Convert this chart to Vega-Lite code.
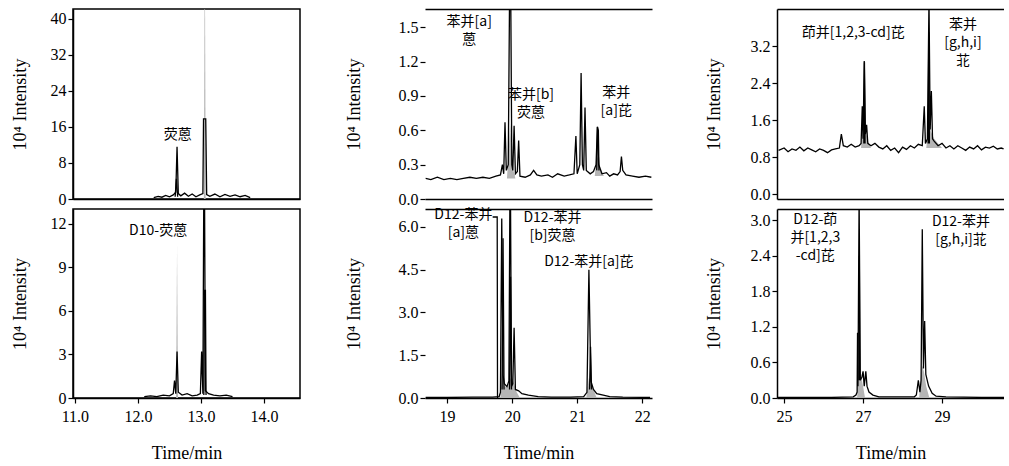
{
"$schema": "https://vega.github.io/schema/vega-lite/v6.json",
"background": "white",
"padding": {"left": 10, "top": 8, "right": 0, "bottom": 5},
"bounds": "flush",
"columns": 3,
"spacing": {"row": 10, "column": 125},
"config": {
  "view": {"stroke": null},
  "font": "Liberation Serif",
  "axis": {"labelFont": "Liberation Serif", "titleFont": "Liberation Serif", "labelFontSize": 16, "titleFontSize": 18, "titleFontWeight": "normal", "labelColor": "#000", "titleColor": "#000", "domainColor": "#000", "tickColor": "#000", "grid": false, "domainWidth": 1.5, "tickWidth": 1.2, "tickSize": 5, "labelPadding": 2, "labelFlush": false, "titlePadding": 12},
  "text": {"font": "Noto Sans CJK SC", "fontSize": 14, "lineHeight": 18, "lineBreak": "\n", "align": "center", "baseline": "middle"}
},
"datasets": {
"lines": [
{"panel":"A","trace":"a1","time":12.25,"intensity":0.3},{"panel":"A","trace":"a1","time":12.32,"intensity":0.6},{"panel":"A","trace":"a1","time":12.38,"intensity":0.4},{"panel":"A","trace":"a1","time":12.44,"intensity":0.8},{"panel":"A","trace":"a1","time":12.5,"intensity":0.5},{"panel":"A","trace":"a1","time":12.56,"intensity":0.9},{"panel":"A","trace":"a1","time":12.6,"intensity":1.5},{"panel":"A","trace":"a1","time":12.62,"intensity":11.6},{"panel":"A","trace":"a1","time":12.64,"intensity":1.2},{"panel":"A","trace":"a1","time":12.68,"intensity":0.7},{"panel":"A","trace":"a1","time":12.74,"intensity":1.3},{"panel":"A","trace":"a1","time":12.8,"intensity":0.6},{"panel":"A","trace":"a1","time":12.86,"intensity":1.1},{"panel":"A","trace":"a1","time":12.92,"intensity":0.5},{"panel":"A","trace":"a1","time":12.98,"intensity":0.9},{"panel":"A","trace":"a1","time":13.03,"intensity":1.2},{"panel":"A","trace":"a1","time":13.04,"intensity":17.8},{"panel":"A","trace":"a1","time":13.075,"intensity":17.8},{"panel":"A","trace":"a1","time":13.09,"intensity":1.0},{"panel":"A","trace":"a1","time":13.14,"intensity":0.6},{"panel":"A","trace":"a1","time":13.22,"intensity":1.1},{"panel":"A","trace":"a1","time":13.3,"intensity":0.5},{"panel":"A","trace":"a1","time":13.38,"intensity":1.0},{"panel":"A","trace":"a1","time":13.46,"intensity":0.6},{"panel":"A","trace":"a1","time":13.54,"intensity":0.9},{"panel":"A","trace":"a1","time":13.62,"intensity":0.5},{"panel":"A","trace":"a1","time":13.7,"intensity":0.8},{"panel":"A","trace":"a1","time":13.78,"intensity":0.3},
{"panel":"A","trace":"a2","time":12.59,"intensity":0.5},{"panel":"A","trace":"a2","time":12.61,"intensity":4.5},{"panel":"A","trace":"a2","time":12.63,"intensity":0.5},
{"panel":"B","trace":"b1","time":12.1,"intensity":0.1},{"panel":"B","trace":"b1","time":12.2,"intensity":0.15},{"panel":"B","trace":"b1","time":12.3,"intensity":0.1},{"panel":"B","trace":"b1","time":12.4,"intensity":0.2},{"panel":"B","trace":"b1","time":12.5,"intensity":0.15},{"panel":"B","trace":"b1","time":12.56,"intensity":0.3},{"panel":"B","trace":"b1","time":12.58,"intensity":1.2},{"panel":"B","trace":"b1","time":12.6,"intensity":0.3},{"panel":"B","trace":"b1","time":12.62,"intensity":3.2},{"panel":"B","trace":"b1","time":12.64,"intensity":0.4},{"panel":"B","trace":"b1","time":12.7,"intensity":0.2},{"panel":"B","trace":"b1","time":12.78,"intensity":0.3},{"panel":"B","trace":"b1","time":12.86,"intensity":0.15},{"panel":"B","trace":"b1","time":12.94,"intensity":0.2},{"panel":"B","trace":"b1","time":12.99,"intensity":0.3},{"panel":"B","trace":"b1","time":13.01,"intensity":3.2},{"panel":"B","trace":"b1","time":13.03,"intensity":0.3},{"panel":"B","trace":"b1","time":13.05,"intensity":20},{"panel":"B","trace":"b1","time":13.07,"intensity":0.5},{"panel":"B","trace":"b1","time":13.12,"intensity":0.3},{"panel":"B","trace":"b1","time":13.2,"intensity":0.2},{"panel":"B","trace":"b1","time":13.3,"intensity":0.15},{"panel":"B","trace":"b1","time":13.4,"intensity":0.2},{"panel":"B","trace":"b1","time":13.5,"intensity":0.1},
{"panel":"B","trace":"b2","time":13.045,"intensity":0.2},{"panel":"B","trace":"b2","time":13.055,"intensity":7.4},{"panel":"B","trace":"b2","time":13.07,"intensity":7.4},{"panel":"B","trace":"b2","time":13.08,"intensity":0.2},
{"panel":"C","trace":"c1","time":18.67,"intensity":0.18},{"panel":"C","trace":"c1","time":18.75,"intensity":0.17},{"panel":"C","trace":"c1","time":18.85,"intensity":0.19},{"panel":"C","trace":"c1","time":18.95,"intensity":0.17},{"panel":"C","trace":"c1","time":19.05,"intensity":0.18},{"panel":"C","trace":"c1","time":19.15,"intensity":0.17},{"panel":"C","trace":"c1","time":19.25,"intensity":0.18},{"panel":"C","trace":"c1","time":19.35,"intensity":0.19},{"panel":"C","trace":"c1","time":19.45,"intensity":0.18},{"panel":"C","trace":"c1","time":19.55,"intensity":0.19},{"panel":"C","trace":"c1","time":19.65,"intensity":0.18},{"panel":"C","trace":"c1","time":19.75,"intensity":0.2},{"panel":"C","trace":"c1","time":19.82,"intensity":0.21},{"panel":"C","trace":"c1","time":19.85,"intensity":0.3},{"panel":"C","trace":"c1","time":19.87,"intensity":0.22},{"panel":"C","trace":"c1","time":19.89,"intensity":0.67},{"panel":"C","trace":"c1","time":19.91,"intensity":0.25},{"panel":"C","trace":"c1","time":19.94,"intensity":0.3},{"panel":"C","trace":"c1","time":19.97,"intensity":2.5},{"panel":"C","trace":"c1","time":19.995,"intensity":0.3},{"panel":"C","trace":"c1","time":20.01,"intensity":0.25},{"panel":"C","trace":"c1","time":20.03,"intensity":0.64},{"panel":"C","trace":"c1","time":20.05,"intensity":0.22},{"panel":"C","trace":"c1","time":20.08,"intensity":0.24},{"panel":"C","trace":"c1","time":20.1,"intensity":0.51},{"panel":"C","trace":"c1","time":20.12,"intensity":0.2},{"panel":"C","trace":"c1","time":20.2,"intensity":0.19},{"panel":"C","trace":"c1","time":20.28,"intensity":0.21},{"panel":"C","trace":"c1","time":20.33,"intensity":0.25},{"panel":"C","trace":"c1","time":20.38,"intensity":0.21},{"panel":"C","trace":"c1","time":20.45,"intensity":0.2},{"panel":"C","trace":"c1","time":20.55,"intensity":0.21},{"panel":"C","trace":"c1","time":20.62,"intensity":0.19},{"panel":"C","trace":"c1","time":20.7,"intensity":0.22},{"panel":"C","trace":"c1","time":20.8,"intensity":0.2},{"panel":"C","trace":"c1","time":20.88,"intensity":0.21},{"panel":"C","trace":"c1","time":20.95,"intensity":0.22},{"panel":"C","trace":"c1","time":20.98,"intensity":0.55},{"panel":"C","trace":"c1","time":21.0,"intensity":0.22},{"panel":"C","trace":"c1","time":21.04,"intensity":0.3},{"panel":"C","trace":"c1","time":21.06,"intensity":1.1},{"panel":"C","trace":"c1","time":21.08,"intensity":0.3},{"panel":"C","trace":"c1","time":21.1,"intensity":0.25},{"panel":"C","trace":"c1","time":21.12,"intensity":0.8},{"panel":"C","trace":"c1","time":21.14,"intensity":0.25},{"panel":"C","trace":"c1","time":21.2,"intensity":0.22},{"panel":"C","trace":"c1","time":21.25,"intensity":0.24},{"panel":"C","trace":"c1","time":21.29,"intensity":0.3},{"panel":"C","trace":"c1","time":21.31,"intensity":0.63},{"panel":"C","trace":"c1","time":21.33,"intensity":0.3},{"panel":"C","trace":"c1","time":21.38,"intensity":0.22},{"panel":"C","trace":"c1","time":21.45,"intensity":0.23},{"panel":"C","trace":"c1","time":21.5,"intensity":0.2},{"panel":"C","trace":"c1","time":21.56,"intensity":0.22},{"panel":"C","trace":"c1","time":21.62,"intensity":0.21},{"panel":"C","trace":"c1","time":21.66,"intensity":0.24},{"panel":"C","trace":"c1","time":21.68,"intensity":0.37},{"panel":"C","trace":"c1","time":21.7,"intensity":0.25},{"panel":"C","trace":"c1","time":21.75,"intensity":0.21},{"panel":"C","trace":"c1","time":21.85,"intensity":0.2},{"panel":"C","trace":"c1","time":21.95,"intensity":0.19},{"panel":"C","trace":"c1","time":22.05,"intensity":0.2},{"panel":"C","trace":"c1","time":22.14,"intensity":0.19},
{"panel":"C","trace":"c2","time":21.3,"intensity":0.25},{"panel":"C","trace":"c2","time":21.312,"intensity":0.63},{"panel":"C","trace":"c2","time":21.325,"intensity":0.6},{"panel":"C","trace":"c2","time":21.335,"intensity":0.25},
{"panel":"D","trace":"d1","time":18.67,"intensity":0.02},{"panel":"D","trace":"d1","time":19.0,"intensity":0.02},{"panel":"D","trace":"d1","time":19.4,"intensity":0.03},{"panel":"D","trace":"d1","time":19.7,"intensity":0.03},{"panel":"D","trace":"d1","time":19.8,"intensity":0.05},{"panel":"D","trace":"d1","time":19.82,"intensity":0.2},{"panel":"D","trace":"d1","time":19.84,"intensity":6.3},{"panel":"D","trace":"d1","time":19.86,"intensity":0.8},{"panel":"D","trace":"d1","time":19.88,"intensity":0.5},{"panel":"D","trace":"d1","time":19.92,"intensity":0.4},{"panel":"D","trace":"d1","time":19.95,"intensity":0.6},{"panel":"D","trace":"d1","time":19.97,"intensity":9},{"panel":"D","trace":"d1","time":19.99,"intensity":0.4},{"panel":"D","trace":"d1","time":20.01,"intensity":0.5},{"panel":"D","trace":"d1","time":20.03,"intensity":2.46},{"panel":"D","trace":"d1","time":20.05,"intensity":0.3},{"panel":"D","trace":"d1","time":20.1,"intensity":0.25},{"panel":"D","trace":"d1","time":20.15,"intensity":0.15},{"panel":"D","trace":"d1","time":20.25,"intensity":0.1},{"panel":"D","trace":"d1","time":20.4,"intensity":0.05},{"panel":"D","trace":"d1","time":20.6,"intensity":0.03},{"panel":"D","trace":"d1","time":20.9,"intensity":0.03},{"panel":"D","trace":"d1","time":21.1,"intensity":0.05},{"panel":"D","trace":"d1","time":21.15,"intensity":0.2},{"panel":"D","trace":"d1","time":21.18,"intensity":4.5},{"panel":"D","trace":"d1","time":21.21,"intensity":0.6},{"panel":"D","trace":"d1","time":21.25,"intensity":0.3},{"panel":"D","trace":"d1","time":21.3,"intensity":0.15},{"panel":"D","trace":"d1","time":21.4,"intensity":0.1},{"panel":"D","trace":"d1","time":21.5,"intensity":0.05},{"panel":"D","trace":"d1","time":21.7,"intensity":0.03},{"panel":"D","trace":"d1","time":22.12,"intensity":0.02},
{"panel":"D","trace":"d2","time":19.845,"intensity":0.3},{"panel":"D","trace":"d2","time":19.86,"intensity":5.6},{"panel":"D","trace":"d2","time":19.875,"intensity":0.3},
{"panel":"D","trace":"d3","time":19.96,"intensity":0.3},{"panel":"D","trace":"d3","time":19.975,"intensity":4.25},{"panel":"D","trace":"d3","time":19.99,"intensity":0.3},
{"panel":"D","trace":"d4","time":21.19,"intensity":0.3},{"panel":"D","trace":"d4","time":21.205,"intensity":1.8},{"panel":"D","trace":"d4","time":21.22,"intensity":0.3},
{"panel":"D","trace":"d5","time":19.7,"intensity":6.35},{"panel":"D","trace":"d5","time":19.77,"intensity":6.35},{"panel":"D","trace":"d5","time":19.775,"intensity":0},
{"panel":"E","trace":"e1","time":24.86,"intensity":0.95},{"panel":"E","trace":"e1","time":25.0,"intensity":1.0},{"panel":"E","trace":"e1","time":25.1,"intensity":0.92},{"panel":"E","trace":"e1","time":25.2,"intensity":0.98},{"panel":"E","trace":"e1","time":25.3,"intensity":0.95},{"panel":"E","trace":"e1","time":25.4,"intensity":1.02},{"panel":"E","trace":"e1","time":25.5,"intensity":0.94},{"panel":"E","trace":"e1","time":25.6,"intensity":1.0},{"panel":"E","trace":"e1","time":25.7,"intensity":0.96},{"panel":"E","trace":"e1","time":25.8,"intensity":0.92},{"panel":"E","trace":"e1","time":25.9,"intensity":0.98},{"panel":"E","trace":"e1","time":26.0,"intensity":0.95},{"panel":"E","trace":"e1","time":26.1,"intensity":0.9},{"panel":"E","trace":"e1","time":26.2,"intensity":0.96},{"panel":"E","trace":"e1","time":26.3,"intensity":0.98},{"panel":"E","trace":"e1","time":26.4,"intensity":1.0},{"panel":"E","trace":"e1","time":26.45,"intensity":1.3},{"panel":"E","trace":"e1","time":26.5,"intensity":1.05},{"panel":"E","trace":"e1","time":26.6,"intensity":1.02},{"panel":"E","trace":"e1","time":26.7,"intensity":1.08},{"panel":"E","trace":"e1","time":26.8,"intensity":1.02},{"panel":"E","trace":"e1","time":26.9,"intensity":1.05},{"panel":"E","trace":"e1","time":26.95,"intensity":1.1},{"panel":"E","trace":"e1","time":26.98,"intensity":1.9},{"panel":"E","trace":"e1","time":27.0,"intensity":1.2},{"panel":"E","trace":"e1","time":27.03,"intensity":2.88},{"panel":"E","trace":"e1","time":27.06,"intensity":1.3},{"panel":"E","trace":"e1","time":27.09,"intensity":1.5},{"panel":"E","trace":"e1","time":27.12,"intensity":1.1},{"panel":"E","trace":"e1","time":27.2,"intensity":1.05},{"panel":"E","trace":"e1","time":27.3,"intensity":1.1},{"panel":"E","trace":"e1","time":27.4,"intensity":1.02},{"panel":"E","trace":"e1","time":27.5,"intensity":0.98},{"panel":"E","trace":"e1","time":27.6,"intensity":1.05},{"panel":"E","trace":"e1","time":27.7,"intensity":0.95},{"panel":"E","trace":"e1","time":27.8,"intensity":1.0},{"panel":"E","trace":"e1","time":27.9,"intensity":0.9},{"panel":"E","trace":"e1","time":28.0,"intensity":1.02},{"panel":"E","trace":"e1","time":28.1,"intensity":0.97},{"panel":"E","trace":"e1","time":28.2,"intensity":1.05},{"panel":"E","trace":"e1","time":28.3,"intensity":1.0},{"panel":"E","trace":"e1","time":28.4,"intensity":1.08},{"panel":"E","trace":"e1","time":28.5,"intensity":1.05},{"panel":"E","trace":"e1","time":28.55,"intensity":1.9},{"panel":"E","trace":"e1","time":28.58,"intensity":1.1},{"panel":"E","trace":"e1","time":28.63,"intensity":1.2},{"panel":"E","trace":"e1","time":28.67,"intensity":4.2},{"panel":"E","trace":"e1","time":28.7,"intensity":1.4},{"panel":"E","trace":"e1","time":28.73,"intensity":2.23},{"panel":"E","trace":"e1","time":28.76,"intensity":1.2},{"panel":"E","trace":"e1","time":28.8,"intensity":1.15},{"panel":"E","trace":"e1","time":28.9,"intensity":1.05},{"panel":"E","trace":"e1","time":29.0,"intensity":1.1},{"panel":"E","trace":"e1","time":29.1,"intensity":1.0},{"panel":"E","trace":"e1","time":29.2,"intensity":1.05},{"panel":"E","trace":"e1","time":29.3,"intensity":0.98},{"panel":"E","trace":"e1","time":29.4,"intensity":1.05},{"panel":"E","trace":"e1","time":29.5,"intensity":1.0},{"panel":"E","trace":"e1","time":29.6,"intensity":0.95},{"panel":"E","trace":"e1","time":29.7,"intensity":1.02},{"panel":"E","trace":"e1","time":29.8,"intensity":0.98},{"panel":"E","trace":"e1","time":29.9,"intensity":1.05},{"panel":"E","trace":"e1","time":30.0,"intensity":0.96},{"panel":"E","trace":"e1","time":30.1,"intensity":1.02},{"panel":"E","trace":"e1","time":30.2,"intensity":1.0},{"panel":"E","trace":"e1","time":30.3,"intensity":1.04},{"panel":"E","trace":"e1","time":30.4,"intensity":0.98},{"panel":"E","trace":"e1","time":30.5,"intensity":1.0},{"panel":"E","trace":"e1","time":30.56,"intensity":0.98},
{"panel":"E","trace":"e2","time":28.65,"intensity":1.1},{"panel":"E","trace":"e2","time":28.665,"intensity":3.5},{"panel":"E","trace":"e2","time":28.68,"intensity":1.1},
{"panel":"E","trace":"e3","time":27.02,"intensity":1.1},{"panel":"E","trace":"e3","time":27.035,"intensity":2.85},{"panel":"E","trace":"e3","time":27.05,"intensity":1.1},
{"panel":"F","trace":"f1","time":24.83,"intensity":0.01},{"panel":"F","trace":"f1","time":25.5,"intensity":0.01},{"panel":"F","trace":"f1","time":26.2,"intensity":0.01},{"panel":"F","trace":"f1","time":26.75,"intensity":0.02},{"panel":"F","trace":"f1","time":26.82,"intensity":0.05},{"panel":"F","trace":"f1","time":26.85,"intensity":0.1},{"panel":"F","trace":"f1","time":26.86,"intensity":1.1},{"panel":"F","trace":"f1","time":26.87,"intensity":0.2},{"panel":"F","trace":"f1","time":26.9,"intensity":3.4},{"panel":"F","trace":"f1","time":26.93,"intensity":0.3},{"panel":"F","trace":"f1","time":26.97,"intensity":0.35},{"panel":"F","trace":"f1","time":27.0,"intensity":0.45},{"panel":"F","trace":"f1","time":27.03,"intensity":0.2},{"panel":"F","trace":"f1","time":27.07,"intensity":0.45},{"panel":"F","trace":"f1","time":27.1,"intensity":0.2},{"panel":"F","trace":"f1","time":27.15,"intensity":0.1},{"panel":"F","trace":"f1","time":27.25,"intensity":0.05},{"panel":"F","trace":"f1","time":27.4,"intensity":0.02},{"panel":"F","trace":"f1","time":27.8,"intensity":0.02},{"panel":"F","trace":"f1","time":28.3,"intensity":0.02},{"panel":"F","trace":"f1","time":28.35,"intensity":0.05},{"panel":"F","trace":"f1","time":28.4,"intensity":0.3},{"panel":"F","trace":"f1","time":28.44,"intensity":0.1},{"panel":"F","trace":"f1","time":28.47,"intensity":0.3},{"panel":"F","trace":"f1","time":28.5,"intensity":2.85},{"panel":"F","trace":"f1","time":28.53,"intensity":0.5},{"panel":"F","trace":"f1","time":28.56,"intensity":1.3},{"panel":"F","trace":"f1","time":28.59,"intensity":0.4},{"panel":"F","trace":"f1","time":28.66,"intensity":0.2},{"panel":"F","trace":"f1","time":28.75,"intensity":0.08},{"panel":"F","trace":"f1","time":28.85,"intensity":0.03},{"panel":"F","trace":"f1","time":29.1,"intensity":0.02},{"panel":"F","trace":"f1","time":30.0,"intensity":0.01},{"panel":"F","trace":"f1","time":30.57,"intensity":0.01},
{"panel":"F","trace":"f2","time":26.895,"intensity":0.3},{"panel":"F","trace":"f2","time":26.905,"intensity":2.4},{"panel":"F","trace":"f2","time":26.915,"intensity":0.3}
],
"areas": [
{"panel":"A","trace":"g1","time":13.045,"intensity":0,"base":0},{"panel":"A","trace":"g1","time":13.06,"intensity":60,"base":0},{"panel":"A","trace":"g1","time":13.075,"intensity":0,"base":0},
{"panel":"B","trace":"g1","time":12.605,"intensity":0,"base":0},{"panel":"B","trace":"g1","time":12.62,"intensity":10.5,"base":0},{"panel":"B","trace":"g1","time":12.635,"intensity":0,"base":0},
{"panel":"C","trace":"g1","time":19.92,"intensity":0.18,"base":0.18},{"panel":"C","trace":"g1","time":19.95,"intensity":0.45,"base":0.18},{"panel":"C","trace":"g1","time":19.97,"intensity":0.66,"base":0.18},{"panel":"C","trace":"g1","time":19.99,"intensity":0.45,"base":0.18},{"panel":"C","trace":"g1","time":20.02,"intensity":0.25,"base":0.18},{"panel":"C","trace":"g1","time":20.05,"intensity":0.18,"base":0.18},
{"panel":"C","trace":"g2","time":21.27,"intensity":0.2,"base":0.2},{"panel":"C","trace":"g2","time":21.3,"intensity":0.38,"base":0.2},{"panel":"C","trace":"g2","time":21.32,"intensity":0.35,"base":0.2},{"panel":"C","trace":"g2","time":21.36,"intensity":0.27,"base":0.2},{"panel":"C","trace":"g2","time":21.41,"intensity":0.2,"base":0.2},
{"panel":"D","trace":"g1","time":19.82,"intensity":0,"base":0},{"panel":"D","trace":"g1","time":19.85,"intensity":1.2,"base":0},{"panel":"D","trace":"g1","time":19.88,"intensity":0.4,"base":0},{"panel":"D","trace":"g1","time":19.92,"intensity":0.4,"base":0},{"panel":"D","trace":"g1","time":19.96,"intensity":0.6,"base":0},{"panel":"D","trace":"g1","time":19.99,"intensity":0.75,"base":0},{"panel":"D","trace":"g1","time":20.03,"intensity":0.5,"base":0},{"panel":"D","trace":"g1","time":20.07,"intensity":0.2,"base":0},{"panel":"D","trace":"g1","time":20.12,"intensity":0,"base":0},
{"panel":"D","trace":"g2","time":21.14,"intensity":0,"base":0},{"panel":"D","trace":"g2","time":21.18,"intensity":0.7,"base":0},{"panel":"D","trace":"g2","time":21.21,"intensity":0.6,"base":0},{"panel":"D","trace":"g2","time":21.25,"intensity":0.3,"base":0},{"panel":"D","trace":"g2","time":21.3,"intensity":0,"base":0},
{"panel":"E","trace":"g1","time":26.95,"intensity":1.0,"base":1.0},{"panel":"E","trace":"g1","time":26.99,"intensity":1.5,"base":1.0},{"panel":"E","trace":"g1","time":27.03,"intensity":1.8,"base":1.0},{"panel":"E","trace":"g1","time":27.07,"intensity":1.4,"base":1.0},{"panel":"E","trace":"g1","time":27.12,"intensity":1.15,"base":1.0},{"panel":"E","trace":"g1","time":27.2,"intensity":1.0,"base":1.0},
{"panel":"E","trace":"g2","time":28.6,"intensity":1.0,"base":1.0},{"panel":"E","trace":"g2","time":28.64,"intensity":1.3,"base":1.0},{"panel":"E","trace":"g2","time":28.67,"intensity":1.6,"base":1.0},{"panel":"E","trace":"g2","time":28.72,"intensity":1.35,"base":1.0},{"panel":"E","trace":"g2","time":28.8,"intensity":1.2,"base":1.0},{"panel":"E","trace":"g2","time":28.9,"intensity":1.1,"base":1.0},{"panel":"E","trace":"g2","time":29.0,"intensity":1.0,"base":1.0},
{"panel":"F","trace":"g1","time":26.85,"intensity":0,"base":0},{"panel":"F","trace":"g1","time":26.88,"intensity":0.5,"base":0},{"panel":"F","trace":"g1","time":26.9,"intensity":0.6,"base":0},{"panel":"F","trace":"g1","time":26.93,"intensity":0.4,"base":0},{"panel":"F","trace":"g1","time":26.97,"intensity":0.3,"base":0},{"panel":"F","trace":"g1","time":27.0,"intensity":0.2,"base":0},{"panel":"F","trace":"g1","time":27.05,"intensity":0,"base":0},
{"panel":"F","trace":"g2","time":28.42,"intensity":0,"base":0},{"panel":"F","trace":"g2","time":28.47,"intensity":0.4,"base":0},{"panel":"F","trace":"g2","time":28.5,"intensity":0.55,"base":0},{"panel":"F","trace":"g2","time":28.54,"intensity":0.45,"base":0},{"panel":"F","trace":"g2","time":28.6,"intensity":0.2,"base":0},{"panel":"F","trace":"g2","time":28.68,"intensity":0,"base":0}
],
"labels": [
{"panel":"A","time":12.63,"intensity":14.2,"label":"荧蒽"},
{"panel":"B","time":12.32,"intensity":11.5,"label":"D10-荧蒽"},
{"panel":"C","time":19.34,"intensity":1.55,"label":"苯并[a]\n蒽"},
{"panel":"C","time":20.29,"intensity":0.91,"label":"苯并[b]\n荧蒽"},
{"panel":"C","time":21.6,"intensity":0.93,"label":"苯并\n[a]芘"},
{"panel":"D","time":19.25,"intensity":6.42,"label":"D12-苯并\n[a]蒽"},
{"panel":"D","time":20.62,"intensity":6.32,"label":"D12-苯并\n[b]荧蒽"},
{"panel":"D","time":21.18,"intensity":4.77,"label":"D12-苯并[a]芘"},
{"panel":"E","time":26.75,"intensity":3.49,"label":"茚并[1,2,3-cd]芘"},
{"panel":"E","time":29.53,"intensity":3.66,"label":"苯并\n[g,h,i]\n苝"},
{"panel":"F","time":25.79,"intensity":3.0,"label":"D12-茚\n并[1,2,3\n-cd]芘"},
{"panel":"F","time":29.48,"intensity":2.97,"label":"D12-苯并\n[g,h,i]苝"}
]
},
"concat": [
  {"width": 227, "height": 190, "view": {"stroke": "black", "strokeWidth": 1.5},
   "encoding": {"x": {"field": "time", "type": "quantitative", "scale": {"domain": [10.97, 14.57], "nice": false, "zero": false}, "axis": {"labels": false, "ticks": false, "title": null}},
                "y": {"field": "intensity", "type": "quantitative", "stack": null, "scale": {"domain": [0, 42.2], "nice": false}, "axis": {"values": [0, 8, 16, 24, 32, 40], "title": "10⁴ Intensity", "titlePadding": 21}}},
   "layer": [
    {"data": {"name": "areas"}, "transform": [{"filter": "datum.panel === 'A'"}], "mark": {"type": "area", "color": "#b5b5b5", "clip": true}, "encoding": {"y2": {"field": "base"}, "detail": {"field": "trace"}}},
    {"data": {"name": "lines"}, "transform": [{"filter": "datum.panel === 'A'"}], "mark": {"type": "line", "color": "black", "strokeWidth": 1.3, "clip": true}, "encoding": {"detail": {"field": "trace"}}},
    {"data": {"name": "labels"}, "transform": [{"filter": "datum.panel === 'A'"}], "mark": {"type": "text"}, "encoding": {"text": {"field": "label"}}}
   ]},
  {"width": 227, "height": 190, "resolve": {"axis": {"x": "independent"}},
   "encoding": {"x": {"field": "time", "type": "quantitative", "scale": {"domain": [18.66, 22.15], "nice": false, "zero": false}, "axis": {"labels": false, "ticks": false, "title": null}},
                "y": {"field": "intensity", "type": "quantitative", "stack": null, "scale": {"domain": [0, 1.66], "nice": false}, "axis": {"values": [0, 0.3, 0.6, 0.9, 1.2, 1.5], "format": ".1f", "domain": false, "title": "10⁴ Intensity", "titlePadding": 35}}},
   "layer": [
    {"data": {"name": "areas"}, "transform": [{"filter": "datum.panel === 'C'"}], "mark": {"type": "area", "color": "#b5b5b5", "clip": true}, "encoding": {"x": {"field": "time", "type": "quantitative", "scale": {"domain": [18.66, 22.15], "nice": false, "zero": false}, "axis": null}, "y2": {"field": "base"}, "detail": {"field": "trace"}}},
    {"data": {"name": "lines"}, "transform": [{"filter": "datum.panel === 'C'"}], "mark": {"type": "line", "color": "black", "strokeWidth": 1.3, "clip": true}, "encoding": {"detail": {"field": "trace"}}},
    {"data": {"name": "labels"}, "transform": [{"filter": "datum.panel === 'C'"}], "mark": {"type": "text"}, "encoding": {"x": {"field": "time", "type": "quantitative", "scale": {"domain": [18.66, 22.15], "nice": false, "zero": false}, "axis": {"orient": "top", "labels": false, "ticks": false, "title": null}}, "text": {"field": "label"}}}
   ]},
  {"width": 227, "height": 190, "resolve": {"axis": {"x": "independent"}},
   "encoding": {"x": {"field": "time", "type": "quantitative", "scale": {"domain": [24.82, 30.57], "nice": false, "zero": false}, "axis": {"labels": false, "ticks": false, "title": null}},
                "y": {"field": "intensity", "type": "quantitative", "stack": null, "scale": {"domain": [-0.1, 4.0], "nice": false, "zero": false}, "axis": {"values": [0, 0.8, 1.6, 2.4, 3.2], "format": ".1f", "title": "10⁴ Intensity", "titlePadding": 27}}},
   "layer": [
    {"data": {"name": "areas"}, "transform": [{"filter": "datum.panel === 'E'"}], "mark": {"type": "area", "color": "#b5b5b5", "clip": true}, "encoding": {"x": {"field": "time", "type": "quantitative", "scale": {"domain": [24.82, 30.57], "nice": false, "zero": false}, "axis": null}, "y2": {"field": "base"}, "detail": {"field": "trace"}}},
    {"data": {"name": "lines"}, "transform": [{"filter": "datum.panel === 'E'"}], "mark": {"type": "line", "color": "black", "strokeWidth": 1.3, "clip": true}, "encoding": {"detail": {"field": "trace"}}},
    {"data": {"name": "labels"}, "transform": [{"filter": "datum.panel === 'E'"}], "mark": {"type": "text"}, "encoding": {"x": {"field": "time", "type": "quantitative", "scale": {"domain": [24.82, 30.57], "nice": false, "zero": false}, "axis": {"orient": "top", "labels": false, "ticks": false, "title": null}}, "text": {"field": "label"}}}
   ]},
  {"width": 227, "height": 189, "view": {"stroke": "black", "strokeWidth": 1.5},
   "encoding": {"x": {"field": "time", "type": "quantitative", "scale": {"domain": [10.97, 14.57], "nice": false, "zero": false}, "axis": {"values": [11, 12, 13, 14], "format": ".1f", "title": "Time/min", "labelPadding": 5, "titlePadding": 20}},
                "y": {"field": "intensity", "type": "quantitative", "stack": null, "scale": {"domain": [0, 13], "nice": false}, "axis": {"values": [0, 3, 6, 9, 12], "title": "10⁴ Intensity", "titlePadding": 21}}},
   "layer": [
    {"data": {"name": "areas"}, "transform": [{"filter": "datum.panel === 'B'"}], "mark": {"type": "area", "color": "#b5b5b5", "clip": true}, "encoding": {"y2": {"field": "base"}, "detail": {"field": "trace"}}},
    {"data": {"name": "lines"}, "transform": [{"filter": "datum.panel === 'B'"}], "mark": {"type": "line", "color": "black", "strokeWidth": 1.3, "clip": true}, "encoding": {"detail": {"field": "trace"}}},
    {"data": {"name": "labels"}, "transform": [{"filter": "datum.panel === 'B'"}], "mark": {"type": "text"}, "encoding": {"text": {"field": "label"}}}
   ]},
  {"width": 227, "height": 189, "resolve": {"axis": {"x": "independent"}},
   "encoding": {"x": {"field": "time", "type": "quantitative", "scale": {"domain": [18.66, 22.15], "nice": false, "zero": false}, "axis": {"values": [19, 20, 21, 22], "format": "d", "title": "Time/min", "labelPadding": 5, "titlePadding": 20}},
                "y": {"field": "intensity", "type": "quantitative", "stack": null, "scale": {"domain": [0, 6.63], "nice": false}, "axis": {"values": [0, 1.5, 3, 4.5, 6], "format": ".1f", "domain": false, "title": "10⁴ Intensity", "titlePadding": 35}}},
   "layer": [
    {"data": {"name": "areas"}, "transform": [{"filter": "datum.panel === 'D'"}], "mark": {"type": "area", "color": "#b5b5b5", "clip": true}, "encoding": {"x": {"field": "time", "type": "quantitative", "scale": {"domain": [18.66, 22.15], "nice": false, "zero": false}, "axis": null}, "y2": {"field": "base"}, "detail": {"field": "trace"}}},
    {"data": {"name": "lines"}, "transform": [{"filter": "datum.panel === 'D'"}], "mark": {"type": "line", "color": "black", "strokeWidth": 1.3, "clip": true}, "encoding": {"detail": {"field": "trace"}}},
    {"data": {"name": "labels"}, "transform": [{"filter": "datum.panel === 'D'"}], "mark": {"type": "text"}, "encoding": {"x": {"field": "time", "type": "quantitative", "scale": {"domain": [18.66, 22.15], "nice": false, "zero": false}, "axis": {"orient": "top", "labels": false, "ticks": false, "title": null}}, "text": {"field": "label"}}}
   ]},
  {"width": 227, "height": 189, "resolve": {"axis": {"x": "independent"}},
   "encoding": {"x": {"field": "time", "type": "quantitative", "scale": {"domain": [24.82, 30.57], "nice": false, "zero": false}, "axis": {"values": [25, 27, 29], "format": "d", "title": "Time/min", "labelPadding": 5, "titlePadding": 20}},
                "y": {"field": "intensity", "type": "quantitative", "stack": null, "scale": {"domain": [0, 3.19], "nice": false}, "axis": {"values": [0, 0.6, 1.2, 1.8, 2.4, 3.0], "format": ".1f", "title": "10⁴ Intensity", "titlePadding": 27}}},
   "layer": [
    {"data": {"name": "areas"}, "transform": [{"filter": "datum.panel === 'F'"}], "mark": {"type": "area", "color": "#b5b5b5", "clip": true}, "encoding": {"x": {"field": "time", "type": "quantitative", "scale": {"domain": [24.82, 30.57], "nice": false, "zero": false}, "axis": null}, "y2": {"field": "base"}, "detail": {"field": "trace"}}},
    {"data": {"name": "lines"}, "transform": [{"filter": "datum.panel === 'F'"}], "mark": {"type": "line", "color": "black", "strokeWidth": 1.3, "clip": true}, "encoding": {"detail": {"field": "trace"}}},
    {"data": {"name": "labels"}, "transform": [{"filter": "datum.panel === 'F'"}], "mark": {"type": "text"}, "encoding": {"x": {"field": "time", "type": "quantitative", "scale": {"domain": [24.82, 30.57], "nice": false, "zero": false}, "axis": {"orient": "top", "labels": false, "ticks": false, "title": null}}, "text": {"field": "label"}}}
   ]}
]
}
